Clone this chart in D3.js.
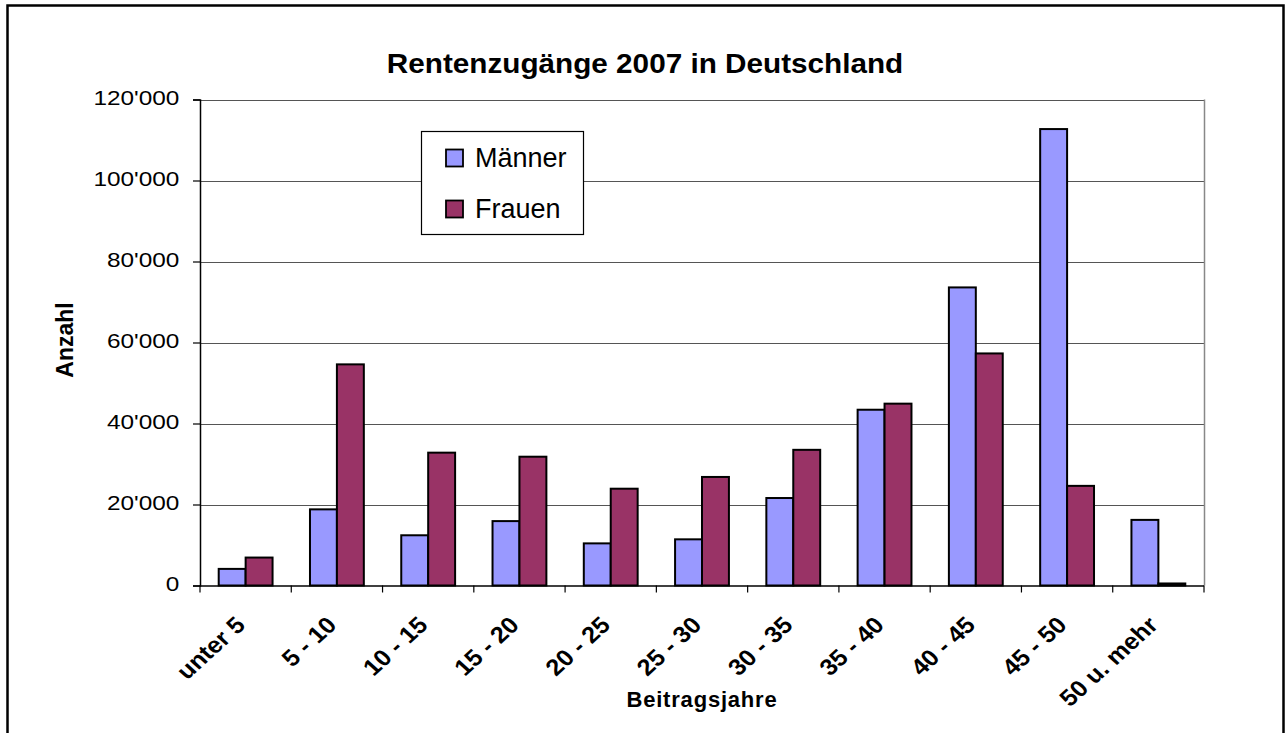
<!DOCTYPE html>
<html>
<head>
<meta charset="utf-8">
<script src="https://cdn.jsdelivr.net/npm/d3@7"></script>
<style>
  html, body { margin: 0; padding: 0; background: #fff; }
  svg { display: block; font-family: "Liberation Sans", Arial, sans-serif; }
</style>
</head>
<body>
<svg id="chart" width="1286" height="733"></svg>
<script>
const categories = ["unter 5", "5 - 10", "10 - 15", "15 - 20", "20 - 25", "25 - 30", "30 - 35", "35 - 40", "40 - 45", "45 - 50", "50 u. mehr"];
const seriesNames = ["Männer", "Frauen"];
const maenner = [4100, 18800, 12400, 15900, 10400, 11400, 21600, 43400, 73600, 112700, 16200];
const frauen  = [6900, 54600, 32800, 31800, 23900, 26800, 33500, 44900, 57300, 24600, 500];
const yTicks = [0, 20000, 40000, 60000, 80000, 100000, 120000];
const colors = ["#9999FF", "#993366"];
const titleText = "Rentenzugänge 2007 in Deutschland";
const yTitle = "Anzahl";
const xTitle = "Beitragsjahre";

const svg = d3.select("#chart");
const plot = { left: 200, right: 1204, top: 99.5, bottom: 585.5 };

// outer frame
svg.append("rect")
  .attr("x", 7.5).attr("y", 5.5)
  .attr("width", 1276).attr("height", 760)
  .attr("fill", "#fff").attr("stroke", "#000").attr("stroke-width", 2.5);

const x0 = d3.scaleBand().domain(categories).range([plot.left, plot.right]).padding(0);
const bw = x0.bandwidth();
const x1 = d3.scaleBand().domain(seriesNames).range([bw * 0.205, bw * 0.795]).padding(0);
const y = d3.scaleLinear().domain([0, 120000]).range([plot.bottom, plot.top]);
const fmt = d3.formatLocale({ decimal: ".", thousands: "'", grouping: [3], currency: ["", ""] }).format(",");

// gridlines
svg.append("g").selectAll("line")
  .data(yTicks.filter(d => d > 0))
  .join("line")
  .attr("x1", plot.left).attr("x2", plot.right)
  .attr("y1", d => Math.round(y(d)) + 0.5).attr("y2", d => Math.round(y(d)) + 0.5)
  .attr("stroke", "#555").attr("stroke-width", 1.2);

// right plot border
svg.append("line")
  .attr("x1", plot.right + 0.5).attr("x2", plot.right + 0.5)
  .attr("y1", plot.top).attr("y2", plot.bottom)
  .attr("stroke", "#888").attr("stroke-width", 1.5);

// bars
const data = categories.map((c, i) => ({ cat: c, vals: [maenner[i], frauen[i]] }));
const groups = svg.append("g").selectAll("g")
  .data(data).join("g")
  .attr("transform", d => `translate(${x0(d.cat)},0)`);
groups.selectAll("rect")
  .data(d => d.vals.map((v, j) => ({ name: seriesNames[j], v, j })))
  .join("rect")
  .attr("x", d => x1(d.name))
  .attr("width", x1.bandwidth())
  .attr("y", d => y(d.v))
  .attr("height", d => y(0) - y(d.v))
  .attr("fill", d => colors[d.j])
  .attr("stroke", "#000").attr("stroke-width", 2);

// y axis
const tickSX = 1.16;
const yAxis = d3.axisLeft(y).tickValues(yTicks).tickSize(7).tickPadding(13).tickFormat(fmt);
const gy = svg.append("g").attr("transform", `translate(${plot.left},0)`).call(yAxis);
gy.select(".domain").attr("stroke", "#000").attr("stroke-width", 1.5);
gy.selectAll(".tick line").attr("stroke", "#000").attr("stroke-width", 1.2);
gy.selectAll(".tick text")
  .attr("font-size", 21).attr("fill", "#000")
  .attr("font-family", "Liberation Sans, Arial, sans-serif")
  .attr("x", -20.7 / tickSX)
  .attr("transform", `scale(${tickSX},1)`)
  .attr("dy", "0.26em");

// x axis: ticks at category boundaries
const boundaries = categories.map(c => x0(c)).concat([plot.right]);
svg.append("line")
  .attr("x1", plot.left).attr("x2", plot.right)
  .attr("y1", plot.bottom + 0.5).attr("y2", plot.bottom + 0.5)
  .attr("stroke", "#000").attr("stroke-width", 1.5);
svg.append("g").selectAll("line")
  .data(boundaries).join("line")
  .attr("x1", d => d).attr("x2", d => d)
  .attr("y1", plot.bottom).attr("y2", plot.bottom + 7)
  .attr("stroke", "#000").attr("stroke-width", 1.2);

// x labels rotated
svg.append("g").selectAll("text")
  .data(categories).join("text")
  .attr("transform", d => `translate(${x0(d) + bw / 2 + 1},${plot.bottom + 41}) scale(1.1,1) rotate(-45)`)
  .attr("text-anchor", "end")
  .attr("font-size", 23).attr("font-weight", "bold")
  .text(d => d);

// title
svg.append("text")
  .attr("transform", "translate(645,73) scale(1.1,1)")
  .attr("text-anchor", "middle")
  .attr("font-size", 27).attr("font-weight", "bold")
  .text(titleText);

// axis titles
svg.append("text")
  .attr("transform", "translate(73,340) rotate(-90)")
  .attr("text-anchor", "middle")
  .attr("font-size", 23).attr("font-weight", "bold")
  .text(yTitle);
svg.append("text")
  .attr("x", 702).attr("y", 707)
  .attr("text-anchor", "middle")
  .attr("font-size", 22).attr("font-weight", "bold")
  .attr("letter-spacing", 0.8)
  .text(xTitle);

// legend
const lg = svg.append("g");
lg.append("rect")
  .attr("x", 421.5).attr("y", 131.5).attr("width", 162).attr("height", 103)
  .attr("fill", "#fff").attr("stroke", "#000").attr("stroke-width", 1.2);
const items = lg.selectAll("g.item").data(seriesNames).join("g").attr("class", "item")
  .attr("transform", (d, i) => `translate(0,${i * 51})`);
items.append("rect")
  .attr("x", 446).attr("y", 149.5).attr("width", 17).attr("height", 17)
  .attr("fill", (d, i) => colors[i]).attr("stroke", "#000").attr("stroke-width", 1.8);
items.append("text")
  .attr("x", 475).attr("y", 167)
  .attr("font-size", 27)
  .text(d => d);
</script>
</body>
</html>
